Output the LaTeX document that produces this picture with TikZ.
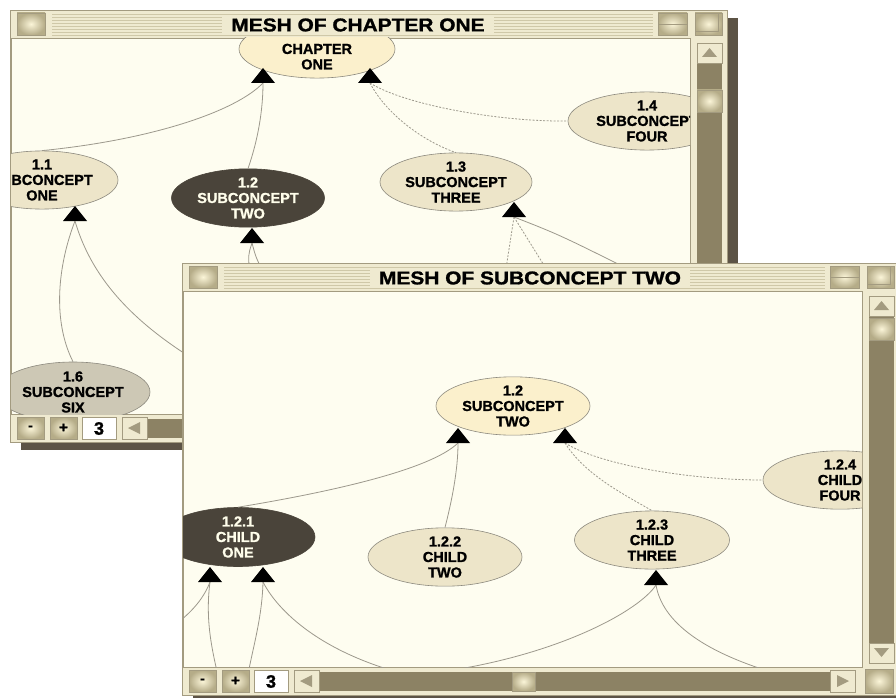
\documentclass[tikz,border=0pt]{standalone}
\usepackage{fontspec}
\setmainfont{Liberation Sans}[BoldFeatures={FakeBold=1.2}]
\usepackage{tikz}
\usetikzlibrary{shapes.geometric}
\definecolor{winbg}{HTML}{FEFDF0}
\definecolor{barbg}{HTML}{EFEAD0}
\definecolor{stripe}{HTML}{CFC8A8}
\definecolor{framec}{HTML}{A39B80}
\definecolor{track}{HTML}{8C8264}
\definecolor{shadowc}{HTML}{5C5345}
\definecolor{beige}{HTML}{EDE5C9}
\definecolor{lightyel}{HTML}{FBF0CC}
\definecolor{darknode}{HTML}{4A443A}
\definecolor{greynode}{HTML}{CDC8B5}
\definecolor{linkc}{HTML}{9C988C}
\definecolor{btnhi}{HTML}{FBF5D8}
\definecolor{btnlo}{HTML}{B5AC88}
\tikzset{concept/.style={ellipse,draw=linkc!90!black,line width=0.6pt,fill=beige,align=center,inner sep=0pt,minimum width=154,minimum height=56,font=\fontsize{14.5}{15.5}\selectfont\bfseries},
darkconcept/.style={concept,fill=darknode,draw=darknode,text=white!92!yellow},
link/.style={draw=linkc,line width=0.8pt},
dotlink/.style={link,dash pattern=on 2pt off 1.5pt},
button/.style={inner color=btnhi,outer color=btnlo,draw=framec},
wintitle/.style={fill=barbg,inner xsep=8pt,inner ysep=1pt,xscale=1.13,font=\fontsize{18.5}{20}\selectfont\bfseries},
barlabel/.style={inner sep=0pt,font=\fontsize{15}{16}\selectfont\bfseries},
tip/.pic={\fill[black] (-12,0) -- (0,-15) -- (12,0) -- cycle;},
pics/window/.style 2 args={code={
\fill[shadowc] (11,8) rectangle (728,440);
\filldraw[fill=barbg,draw=framec] (0,0) rectangle (717,432);
\foreach \s in {4.5,7.5,...,25.5} \draw[stripe,line width=0.7pt] (42,\s) -- (643,\s);
\node (-title) at (348,15) [wintitle] {#1};
\shadedraw[button] (7,3) rectangle (35,25);
\shadedraw[button] (648,3) rectangle (677,25);
\draw[framec] (648,14) -- (677,14);
\shadedraw[button] (685,3) rectangle (712,25);
\draw[framec] (685,21) -- (708,21) -- (708,3);
% content and vertical scroll bar
\filldraw[fill=winbg,draw=framec] (1,28) rectangle (680,404);
\fill[track] (687,53) rectangle (712,380);
\filldraw[fill=barbg,draw=framec] (687,33) rectangle (712,53);
\fill[framec] (692,47) -- (699.5,38) -- (707,47) -- cycle;
\shadedraw[button] (687,#2) rectangle (712,#2+22);
\filldraw[fill=barbg,draw=framec] (687,380) rectangle (712,400);
\fill[framec] (692,385) -- (699.5,394) -- (707,385) -- cycle;
% bottom bar
\fill[track] (137,409) rectangle (648,428);
\shadedraw[button] (7,407) rectangle (34,429);
\node (-minus) at (20.5,418) [barlabel] {-};
\shadedraw[button] (40,407) rectangle (67,429);
\node (-plus) at (53.5,418) [barlabel] {+};
\filldraw[fill=white,draw=framec] (72,407) rectangle (106,429);
\node (-zoom) at (89,418.5) [barlabel,font=\fontsize{18}{18}\selectfont\bfseries] {3};
\filldraw[fill=barbg,draw=framec] (112,407) rectangle (137,429);
\fill[framec] (130,412) -- (118,418) -- (130,424) -- cycle;
\shadedraw[button] (330,409) rectangle (353,428);
\filldraw[fill=barbg,draw=framec] (648,407) rectangle (673,429);
\fill[framec] (655,412) -- (667,418) -- (655,424) -- cycle;
\shadedraw[button] (683,406) rectangle (711,430);
}}}
\begin{document}
\begin{tikzpicture}[x=1pt,y=-1pt]
\useasboundingbox (0,0) rectangle (896,698);
\fill[white] (0,0) rectangle (896,698);

\pic (w1) at (10,10) {window={MESH OF CHAPTER ONE}{80}};
\begin{scope}
\clip (11,38) rectangle (690,414);
\node (ch1) at (317,49) [concept,fill=lightyel,minimum width=156,minimum height=52] {\phantom{1}\\CHAPTER\\ONE};
\node (s11) at (42,180) [concept,minimum width=152,minimum height=55] {1.1\\SUBCONCEPT\\ONE};
\node (s12) at (248,198) [darkconcept,minimum width=153,minimum height=57] {1.2\\SUBCONCEPT\\TWO};
\node (s13) at (456,182) [concept,minimum width=152,minimum height=57] {1.3\\SUBCONCEPT\\THREE};
\node (s14) at (647,121) [concept,minimum width=158,minimum height=55] {1.4\\SUBCONCEPT\\FOUR};
\node (s16) at (73,392) [concept,fill=greynode,minimum width=154,minimum height=60] {1.6\\SUBCONCEPT\\SIX};
\coordinate (t1a) at (263,83);
\coordinate (t1b) at (370,83);
\coordinate (t11) at (75,221);
\coordinate (t12) at (252,243);
\coordinate (t13) at (514,217);
\coordinate (e1) at (215,372);
\coordinate (e2) at (250,275);
\coordinate (e3) at (265,275);
\coordinate (e4) at (505,275);
\coordinate (e5) at (550,275);
\coordinate (e6) at (640,275);
\draw[link] (s11.north) .. controls (150,140) and (235,112) .. (t1a);
\draw[link] (s12.north) .. controls (258,140) and (263,110) .. (t1a);
\draw[dotlink] (t1b) .. controls (385,112) and (420,140) .. (s13.north);
\draw[dotlink] (t1b) .. controls (405,105) and (500,122) .. (s14.west);
\draw[link] (t11) .. controls (58,265) and (52,320) .. (s16.north);
\draw[link] (t11) .. controls (95,290) and (150,335) .. (e1);
\draw[link] (t12) .. controls (248,255) .. (e2);
\draw[link] (t12) .. controls (256,258) .. (e3);
\draw[dotlink] (t13) -- (e4);
\draw[dotlink] (t13) -- (e5);
\draw[link] (t13) .. controls (560,235) .. (e6);
\foreach \t in {t1a,t1b,t11,t12,t13} \pic at (\t) {tip};
\end{scope}

\pic (w2) at (182,263) {window={MESH OF SUBCONCEPT TWO}{55}};
\begin{scope}
\clip (183,291) rectangle (862,667);
\node (s2) at (513,406) [concept,fill=lightyel,minimum width=154,minimum height=57] {1.2\\SUBCONCEPT\\TWO};
\node (c21) at (238,537) [darkconcept,minimum width=154,minimum height=59] {1.2.1\\CHILD\\ONE};
\node (c22) at (445,557) [concept,minimum width=154,minimum height=57] {1.2.2\\CHILD\\TWO};
\node (c23) at (652,540) [concept,minimum width=155,minimum height=56] {1.2.3\\CHILD\\THREE};
\node (c24) at (840,480) [concept,minimum width=154,minimum height=56] {1.2.4\\CHILD\\FOUR};
\coordinate (t2a) at (458,443);
\coordinate (t2b) at (565,443);
\coordinate (t21a) at (210,582);
\coordinate (t21b) at (263,582);
\coordinate (t23) at (656,585);
\coordinate (f1) at (165,632);
\coordinate (f2) at (219,680);
\coordinate (f3) at (247,680);
\coordinate (f4) at (430,680);
\coordinate (f5) at (440,672);
\coordinate (f6) at (800,680);
\draw[link] (c21.north) .. controls (330,492) and (430,470) .. (t2a);
\draw[link] (c22.north) .. controls (452,500) and (458,470) .. (t2a);
\draw[dotlink] (t2b) .. controls (600,465) and (690,480) .. (c24.west);
\draw[dotlink] (t2b) .. controls (585,475) and (625,495) .. (c23.north);
\draw[link] (t21a) .. controls (203,600) and (190,615) .. (f1);
\draw[link] (t21a) .. controls (205,620) and (212,650) .. (f2);
\draw[link] (t21b) .. controls (262,620) and (252,650) .. (f3);
\draw[link] (t21b) .. controls (280,615) and (330,660) .. (f4);
\draw[link] (t23) .. controls (640,610) and (560,655) .. (f5);
\draw[link] (t23) .. controls (662,620) and (700,655) .. (f6);
\foreach \t in {t2a,t2b,t21a,t21b,t23} \pic at (\t) {tip};
\end{scope}
\end{tikzpicture}
\end{document}
